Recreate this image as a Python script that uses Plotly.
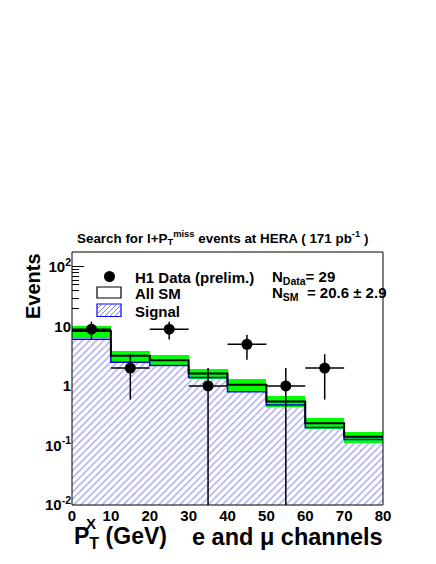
import plotly.graph_objects as go

# binning in P_T^X (GeV)
bin_edges = [0, 10, 20, 30, 40, 50, 60, 70, 80]
bin_centers = [5, 15, 25, 35, 45, 55, 65, 75]

# H1 data (prelim.)
data_x = [5, 15, 25, 35, 45, 55, 65]
data_y = [9, 2, 9, 1, 5, 1, 2]
data_err_up = [3.0, 1.41, 3.0, 1.0, 2.24, 1.0, 1.41]
data_err_down = [3.0, 1.41, 3.0, 0.999, 2.24, 0.999, 1.41]
data_xerr = [5, 5, 5, 5, 5, 5, 5]

# all SM expectation and its uncertainty
sm_y = [8.4, 3.2, 2.7, 1.62, 1.05, 0.55, 0.236, 0.14]
sm_err = [1.9, 0.72, 0.55, 0.32, 0.25, 0.115, 0.048, 0.03]

# signal
signal_y = [6.1, 2.5, 2.2, 1.38, 0.80, 0.48, 0.20, 0.126]

y_ticks = [0.01, 0.1, 1, 10, 100]
y_ticktext = ['10<sup>-2</sup>', '10<sup>-1</sup>', '1', '10', '10<sup>2</sup>']

FONT = 'Liberation Sans'
HATCH = '#5a5ae6'
OFF = 8  # page body margin
W, H = 436 - OFF, 564 - OFF
# plot frame in window pixels
L, R, T, B = 72, 383, 252, 505


def px(x):
    return (x - L) / (R - L)


def py(y):
    return (B - y) / (B - T)


fig = go.Figure()

fig.add_trace(go.Bar(
    x=bin_centers, y=signal_y, width=10,
    marker=dict(color='white', line=dict(width=0),
                pattern=dict(shape='/', fgcolor=HATCH, bgcolor='white',
                             size=5, solidity=0.3)),
    showlegend=False
))

fig.add_trace(go.Bar(
    x=bin_centers,
    y=[2 * e for e in sm_err],
    base=[s - e for s, e in zip(sm_y, sm_err)],
    width=10,
    marker=dict(color='#00ff00', line=dict(width=0)),
    showlegend=False
))

fig.add_trace(go.Scatter(
    x=bin_edges, y=signal_y + [signal_y[-1]],
    mode='lines', line=dict(color='#0000ff', width=1.5, shape='hv'),
    showlegend=False
))

fig.add_trace(go.Scatter(
    x=bin_edges, y=sm_y + [sm_y[-1]],
    mode='lines', line=dict(color='black', width=2, shape='hv'),
    showlegend=False
))

fig.add_trace(go.Scatter(
    x=data_x, y=data_y, mode='markers',
    marker=dict(color='black', size=11),
    error_y=dict(type='data', symmetric=False, array=data_err_up,
                 arrayminus=data_err_down, width=0, thickness=1.5, color='black'),
    error_x=dict(type='data', array=data_xerr, width=0, thickness=1.5, color='black'),
    showlegend=False
))

# frame on top
shapes = [dict(type='rect', xref='paper', yref='paper', x0=0, x1=1, y0=0, y1=1,
               line=dict(color='black', width=1), layer='above')]

# legend swatches
shapes.append(dict(type='circle', xref='paper', yref='paper',
                   x0=px(104), x1=px(115), y0=py(282), y1=py(271),
                   fillcolor='black', line=dict(color='black', width=0)))
shapes.append(dict(type='rect', xref='paper', yref='paper',
                   x0=px(97), x1=px(121), y0=py(298), y1=py(287),
                   fillcolor='white', line=dict(color='black', width=1.2)))
shapes.append(dict(type='rect', xref='paper', yref='paper',
                   x0=px(97), x1=px(121), y0=py(316.5), y1=py(304),
                   fillcolor='white', line=dict(color='#0000ff', width=1.2)))
hatch = []
bx0, bx1, by0, by1 = 97, 121, 304, 316.5
k = bx0 - (by1 - by0)
while k < bx1:
    x0, y0 = k, by1
    x1, y1 = k + (by1 - by0), by0
    if x0 < bx0:
        y0 = by1 - (bx0 - x0)
        x0 = bx0
    if x1 > bx1:
        y1 = by0 + (x1 - bx1)
        x1 = bx1
    hatch.append(f'M{px(x0)},{py(y0)} L{px(x1)},{py(y1)}')
    k += 5
shapes.append(dict(type='path', xref='paper', yref='paper', path=' '.join(hatch),
                   line=dict(color=HATCH, width=0.8)))

bold = dict(family=FONT, color='black', weight='bold')
annotations = [
    dict(text='H1 Data (prelim.)', x=px(133), y=py(277), xanchor='left', yanchor='middle',
         font=dict(size=15, **bold)),
    dict(text='All SM', x=px(133), y=py(293.5), xanchor='left', yanchor='middle',
         font=dict(size=15, **bold)),
    dict(text='Signal', x=px(133), y=py(311), xanchor='left', yanchor='middle',
         font=dict(size=15, **bold)),
    dict(text='N<sub>Data</sub>= 29', x=px(270), y=py(277), xanchor='left', yanchor='middle',
         font=dict(size=15, **bold)),
    dict(text='N<sub>SM</sub>\u00a0 = 20.6 \u00b1 2.9', x=px(270), y=py(293), xanchor='left',
         yanchor='middle', font=dict(size=15, **bold)),
    dict(text='Search for l+P<sub>T</sub><sup>miss</sup> events at HERA ( 171 pb<sup>-1</sup> )',
         x=px(222), y=py(238), xanchor='center', yanchor='middle',
         font=dict(size=13.4, **bold)),
    # x-axis title, with the stacked sub/superscript split out
    dict(text='P<sub>T</sub>\u00a0(GeV)', x=px(72), y=py(537), xanchor='left',
         yanchor='middle', font=dict(size=23, **bold)),
    dict(text='X', x=px(91), y=py(523), xanchor='center', yanchor='middle',
         font=dict(size=15, **bold)),
    dict(text='e and \u03bc channels', x=px(190), y=py(537), xanchor='left',
         yanchor='middle', font=dict(size=23.5, **bold)),
    dict(text='Events', x=px(33), y=py(286), xanchor='center', yanchor='middle',
         textangle=-90, font=dict(size=20, **bold)),
]
for a in annotations:
    a.update(xref='paper', yref='paper', showarrow=False)

minor_vals = [m * 10 ** d for d in range(-2, 3) for m in range(2, 10)]

fig.update_layout(
    width=W, height=H,
    margin=dict(l=L - OFF, r=W - (R - OFF), t=T - OFF, b=H - (B - OFF)),
    paper_bgcolor='white', plot_bgcolor='white',
    barmode='overlay', bargap=0,
    font=dict(family=FONT, color='black'),
    showlegend=False,
    shapes=shapes,
    annotations=annotations,
    xaxis=dict(range=[0, 80], tickvals=bin_edges, ticks='inside', ticklen=8,
               tickcolor='black', showgrid=False, zeroline=False, showline=False,
               layer='below traces',
               tickfont=dict(size=15, **bold),
               minor=dict(ticks='inside', ticklen=4, dtick=2, tickcolor='black')),
    yaxis=dict(type='log', range=[-2, 2.25], tickvals=y_ticks, ticktext=y_ticktext,
               ticks='inside', ticklen=12, tickcolor='black', showgrid=False,
               zeroline=False, showline=False, layer='below traces',
               tickfont=dict(size=15, **bold),
               minor=dict(ticks='inside', ticklen=7, tickvals=minor_vals,
                          tickcolor='black')),
)

fig.write_html('out.html')
